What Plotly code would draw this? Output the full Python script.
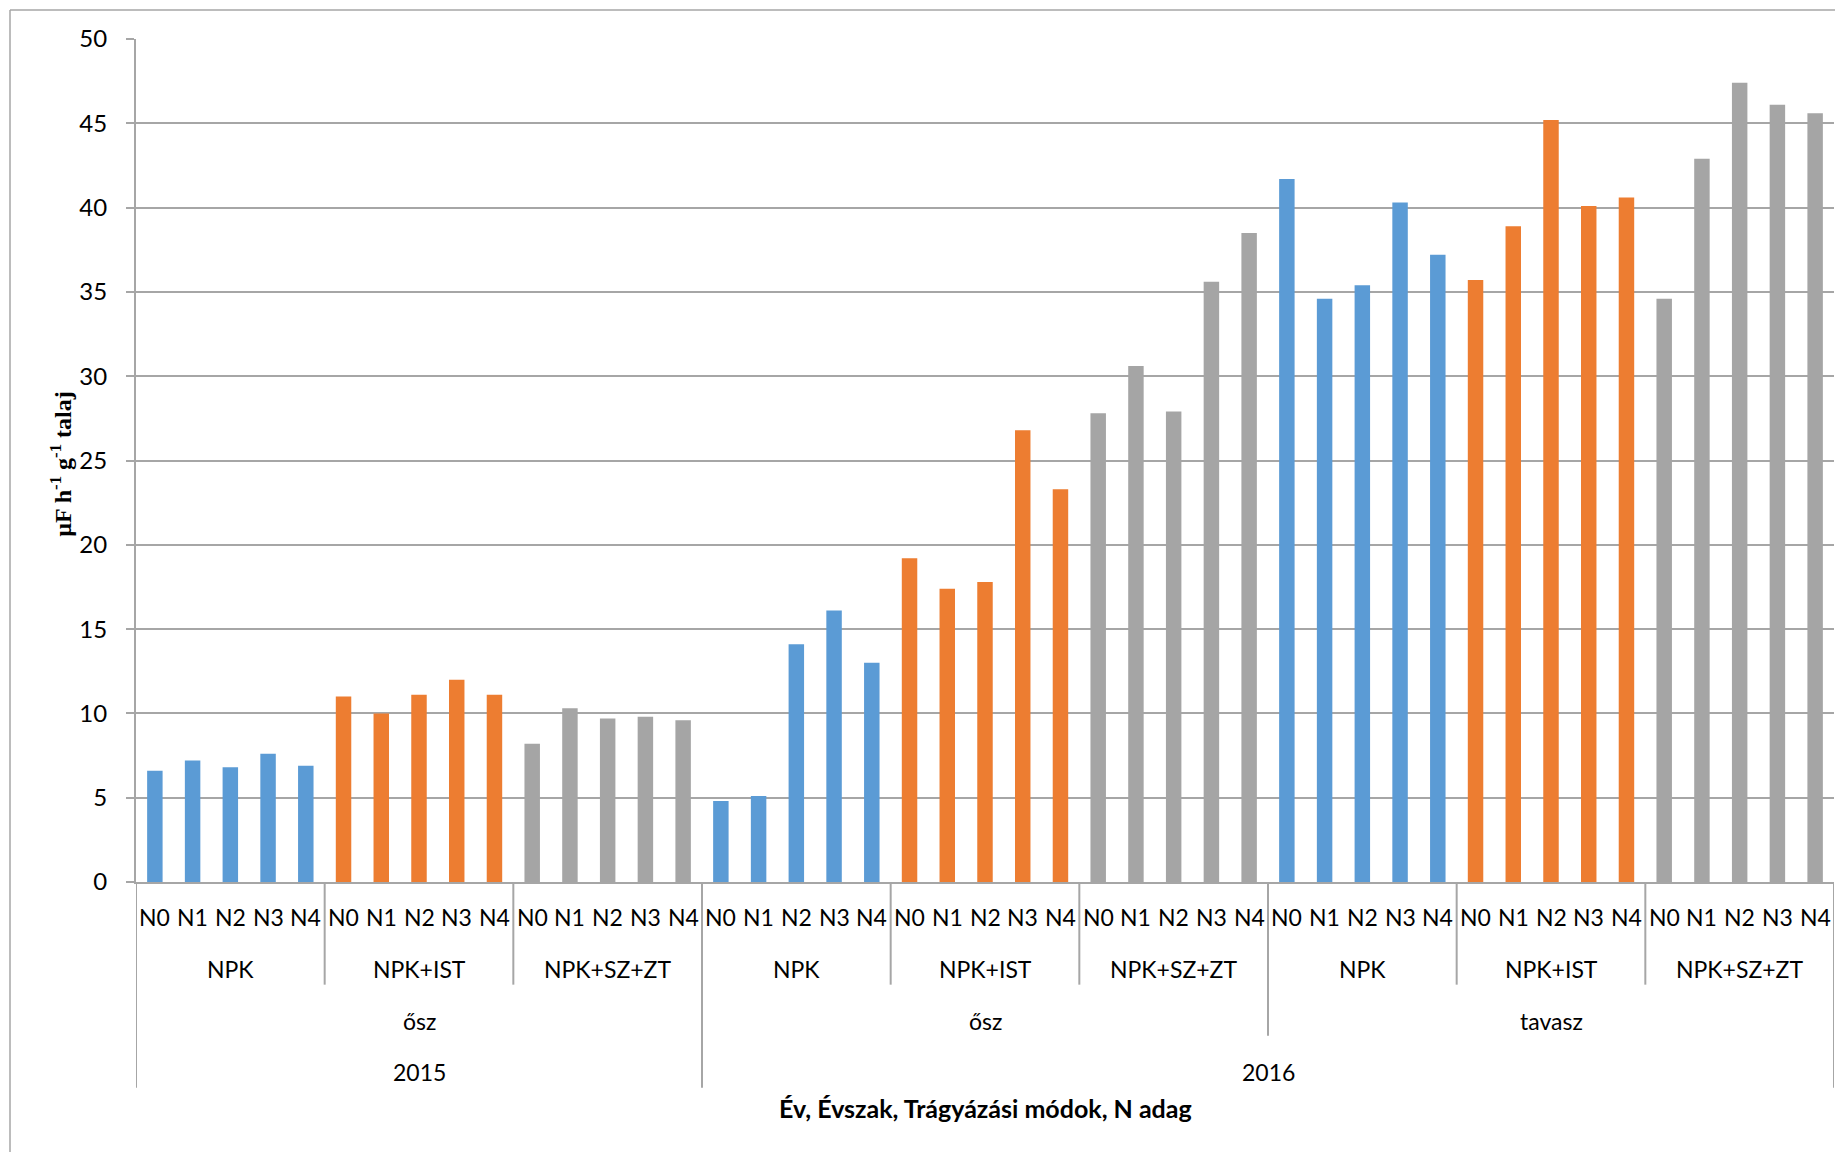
import plotly.graph_objects as go

# ---------------- data ----------------
n_doses = ["N0", "N1", "N2", "N3", "N4"]
methods = ["NPK", "NPK+IST", "NPK+SZ+ZT"]
seasons = ["ősz", "ősz", "tavasz"]
years = ["2015", "2016"]

# values per (year, season, method)
v2015_osz_npk = [6.6, 7.2, 6.8, 7.6, 6.9]
v2015_osz_ist = [11.0, 10.0, 11.1, 12.0, 11.1]
v2015_osz_szzt = [8.2, 10.3, 9.7, 9.8, 9.6]
v2016_osz_npk = [4.8, 5.1, 14.1, 16.1, 13.0]
v2016_osz_ist = [19.2, 17.4, 17.8, 26.8, 23.3]
v2016_osz_szzt = [27.8, 30.6, 27.9, 35.6, 38.5]
v2016_tav_npk = [41.7, 34.6, 35.4, 40.3, 37.2]
v2016_tav_ist = [35.7, 38.9, 45.2, 40.1, 40.6]
v2016_tav_szzt = [34.6, 42.9, 47.4, 46.1, 45.6]

groups = [
    v2015_osz_npk, v2015_osz_ist, v2015_osz_szzt,
    v2016_osz_npk, v2016_osz_ist, v2016_osz_szzt,
    v2016_tav_npk, v2016_tav_ist, v2016_tav_szzt,
]
method_colors = ["#5B9BD5", "#ED7D31", "#A5A5A5"]

y_title = "µF h<sup>-1</sup> g<sup>-1</sup> talaj"
x_title = "Év, Évszak, Trágyázási módok, N adag"

# ---------------- figure ----------------
fig = go.Figure()
for mi, mname in enumerate(methods):
    xs, ys = [], []
    for gi, vals in enumerate(groups):
        if gi % 3 != mi:
            continue
        for ni, v in enumerate(vals):
            xs.append(gi * 5 + ni)
            ys.append(v)
    fig.add_trace(go.Bar(x=xs, y=ys, width=0.41, name=mname,
                         marker=dict(color=method_colors[mi], line=dict(width=0)),
                         showlegend=False))

GRID = "#A6A6A6"
FONT = "Lato"
OFF = 8  # page body margin
W, H = 1843 - OFF, 1152 - OFF
L, R, T = 136 - OFF, 9, 39 - OFF
BASE = 882.3 - OFF
B = H - BASE
plot_h = H - T - B
plot_w = W - L - R


def py(page_y):  # page pixel y -> paper y
    return (BASE - (page_y - OFF)) / plot_h


def pxx(page_x):  # page pixel x -> paper x
    return (page_x - OFF - L) / plot_w


ann = []
shapes = []
lab_font = dict(family=FONT, size=23, color="#000")
# N dose labels
for gi in range(len(groups)):
    for ni, nd in enumerate(n_doses):
        ann.append(dict(x=gi * 5 + ni, y=py(917), xref="x", yref="paper", text=nd,
                        showarrow=False, yanchor="middle", font=lab_font))
# method labels
for gi in range(len(groups)):
    ann.append(dict(x=gi * 5 + 2, y=py(969), xref="x", yref="paper", text=methods[gi % 3],
                    showarrow=False, yanchor="middle", font=lab_font))
# season labels
for si, s in enumerate(seasons):
    ann.append(dict(x=si * 15 + 7, y=py(1021), xref="x", yref="paper", text=s,
                    showarrow=False, yanchor="middle", font=lab_font))
# year labels
year_centers = [7, 29.5]
for yi, yr in enumerate(years):
    ann.append(dict(x=year_centers[yi], y=py(1072), xref="x", yref="paper", text=yr,
                    showarrow=False, yanchor="middle", font=lab_font))
# axis titles
ann.append(dict(x=22, y=py(1108), xref="x", yref="paper", text="<b>" + x_title + "</b>",
                showarrow=False, yanchor="middle",
                font=dict(family=FONT, size=25, color="#000")))
ann.append(dict(x=pxx(61), y=py(464), xref="paper", yref="paper", text="<b>" + y_title + "</b>",
                showarrow=False, textangle=-90, xanchor="center", yanchor="middle",
                font=dict(family="Liberation Serif", size=24, color="#000")))

# dividers
depth = {"method": py(985), "season": py(1036), "year": py(1088)}
kinds = ["year", "method", "method", "year", "method", "method", "season", "method", "method", "year"]
for k, kind in enumerate(kinds):
    xk = -0.5 + 5 * k
    shapes.append(dict(type="line", xref="x", yref="paper", x0=xk, x1=xk, y0=0, y1=depth[kind],
                       line=dict(color=GRID, width=2)))

# outer chart border (left & top)
shapes.append(dict(type="line", xref="paper", yref="paper", x0=pxx(10), x1=pxx(10),
                   y0=py(1200), y1=py(10), line=dict(color=GRID, width=1.5)))
shapes.append(dict(type="line", xref="paper", yref="paper", x0=pxx(10), x1=pxx(1900),
                   y0=py(10), y1=py(10), line=dict(color=GRID, width=1.5)))

fig.update_layout(
    width=W, height=H,
    margin=dict(l=L, r=R, t=T, b=B),
    paper_bgcolor="white", plot_bgcolor="white",
    barmode="overlay",
    annotations=ann, shapes=shapes,
    xaxis=dict(range=[-0.5, 44.5], showticklabels=False, showgrid=False, zeroline=False,
               showline=True, linecolor=GRID, linewidth=2, ticks=""),
    yaxis=dict(range=[0, 50], dtick=5, showgrid=True, gridcolor=GRID, gridwidth=2,
               zeroline=False, showline=True, linecolor=GRID, linewidth=2,
               ticks="outside", ticklen=8, tickcolor=GRID, tickwidth=2,
               ticklabelstandoff=14,
               tickfont=dict(family=FONT, size=24, color="#000")),
    font=dict(family=FONT),
)

fig.write_html("out.html")
